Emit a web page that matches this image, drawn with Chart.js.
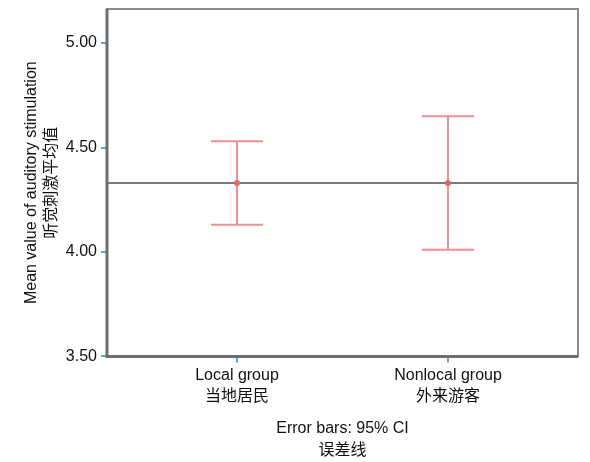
<!DOCTYPE html>
<html>
<head>
<meta charset="utf-8">
<script src="https://cdn.jsdelivr.net/npm/chart.js@4"></script>
<style>
  body { margin: 0; background: #fff; }
</style>
</head>
<body>
<canvas id="ciChart" width="590" height="462"></canvas>
<script>
const groupsEn = ['Local group', 'Nonlocal group'];
const groupsZh = ['当地居民', '外来游客'];
const means = [4.33, 4.33];
const ciLower = [4.13, 4.01];
const ciUpper = [4.53, 4.65];
const yTicks = [3.5, 4.0, 4.5, 5.0];
const refLine = 4.33;

const FONT = "'Liberation Sans', 'Noto Sans CJK SC', Arial, sans-serif";
const TICK_BLUE = '#5ba6d4';
const BAR_RED = '#f09090';

// frame, reference line and error bars
const errorBars = {
    id: 'errorBars',
    beforeDatasetsDraw(chart) {
        const {ctx, chartArea: a, scales: {x, y}} = chart;
        ctx.save();
        // reference line
        const ry = y.getPixelForValue(refLine);
        ctx.strokeStyle = '#7a7a7a';
        ctx.lineWidth = 2;
        ctx.beginPath();
        ctx.moveTo(a.left, ry);
        ctx.lineTo(a.right, ry);
        ctx.stroke();
        // error bars
        ctx.strokeStyle = BAR_RED;
        ctx.lineWidth = 2;
        means.forEach((m, i) => {
            const px = x.getPixelForValue(i + 1);
            const lo = y.getPixelForValue(ciLower[i]);
            const hi = y.getPixelForValue(ciUpper[i]);
            ctx.beginPath();
            ctx.moveTo(px, lo); ctx.lineTo(px, hi);
            ctx.moveTo(px - 26, lo); ctx.lineTo(px + 26, lo);
            ctx.moveTo(px - 26, hi); ctx.lineTo(px + 26, hi);
            ctx.stroke();
        });
        ctx.restore();
    },
    afterDraw(chart) {
        const {ctx, chartArea: a} = chart;
        ctx.save();
        ctx.strokeStyle = '#8c8c8c';
        ctx.lineWidth = 2;
        ctx.strokeRect(a.left, a.top, a.right - a.left, a.bottom - a.top);
        ctx.strokeStyle = '#6e6e6e';
        ctx.lineWidth = 3;
        ctx.beginPath();
        ctx.moveTo(a.left, a.top); ctx.lineTo(a.left, a.bottom); ctx.lineTo(a.right, a.bottom);
        ctx.stroke();
        ctx.restore();
    }
};

const ctx = document.getElementById('ciChart').getContext('2d');
const ciChart = new Chart(ctx, {
    type: 'scatter',
    data: {
        datasets: [{
            data: means.map((m, i) => ({x: i + 1, y: m})),
            pointRadius: 3,
            pointBackgroundColor: '#e06a6a',
            pointBorderWidth: 0
        }]
    },
    options: {
        responsive: false,
        animation: false,
        layout: { padding: { top: 9, right: 12, left: 0, bottom: 0 } },
        plugins: {
            legend: { display: false },
            tooltip: { enabled: false }
        },
        scales: {
            x: {
                type: 'linear',
                min: 0.384,
                max: 2.616,
                afterBuildTicks: (scale) => { scale.ticks = groupsEn.map((_, i) => ({value: i + 1})); },
                grid: { drawOnChartArea: false, color: TICK_BLUE, lineWidth: 2, tickLength: 6 },
                border: { display: false },
                ticks: {
                    padding: 3,
                    color: '#111',
                    font: { family: FONT, size: 16, lineHeight: 1.3 },
                    callback: (v) => { const i = Math.round(v) - 1; return [groupsEn[i], groupsZh[i]]; }
                },
                title: {
                    display: true,
                    text: ['Error bars: 95% CI', '误差线'],
                    color: '#111',
                    font: { family: FONT, size: 16, lineHeight: 1.375 },
                    padding: { top: 8, bottom: 0 }
                }
            },
            y: {
                min: 3.5,
                max: 5.163,
                afterBuildTicks: (scale) => { scale.ticks = yTicks.map(v => ({value: v})); },
                afterFit: (scale) => { scale.width = 107; scale.paddingTop = 0; scale.paddingBottom = 0; },
                grid: { drawOnChartArea: false, color: TICK_BLUE, lineWidth: 2, tickLength: 6 },
                border: { display: false },
                ticks: {
                    padding: 4,
                    color: '#111',
                    font: { family: FONT, size: 16 },
                    callback: (v) => v.toFixed(2)
                },
                title: {
                    display: true,
                    text: ['Mean value of auditory stimulation', '听觉刺激平均值'],
                    color: '#111',
                    font: { family: FONT, size: 16, lineHeight: 1.25 },
                    padding: { top: 22, bottom: 0 }
                }
            }
        }
    },
    plugins: [errorBars]
});
</script>
</body>
</html>
